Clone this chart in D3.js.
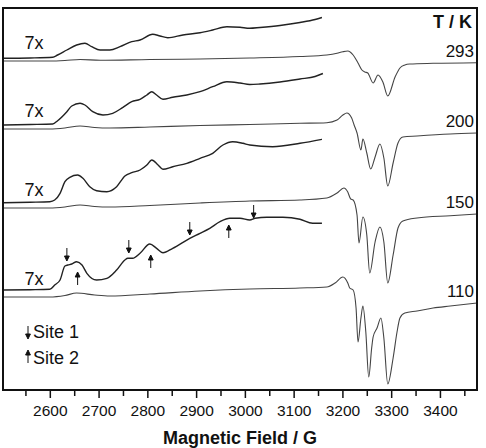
<!DOCTYPE html>
<html>
<head>
<meta charset="utf-8">
<script src="https://cdn.jsdelivr.net/npm/d3@7"></script>
<style>
  body { margin: 0; background: #fff; }
  svg { font-family: Arial, "Liberation Sans", sans-serif; }
  .axis .domain { display: none; }
</style>
</head>
<body>
<svg width="486" height="448"></svg>
<script>
// temperatures (top to bottom) and the stacking offset of each spectrum (a.u.)
var temps = ["293", "200", "150", "110"];
var offsets = [329, 261, 182, 93];
var xTicks = [2600, 2700, 2800, 2900, 3000, 3100, 3200, 3300, 3400];

// full spectra: [field / G, intensity a.u.]
var full293 = [[2504,0],[2600,0],[2631,0.5],[2662,1.5],[2703,0.7],[2805,1.5],[2908,2],[3010,3],[3113,4.5],[3168,6],[3189,7.7],[3201,9.3],[3211,10],[3222,6],[3232,-2],[3240,-9],[3246,-11],[3252,-12],[3263,-22],[3273,-14],[3283,-21],[3293,-35],[3308,-16],[3318,-7],[3328,-4],[3338,-3],[3386,-2.3],[3476,-1.7]];
var full200 = [[2504,0],[2600,0],[2631,1],[2662,3],[2692,1.5],[2723,1],[2805,2],[2908,3.5],[3010,4.5],[3113,5.7],[3168,6.3],[3189,9],[3201,14],[3209,16],[3219,11],[3224,4],[3230,-4],[3238,-21],[3242,-10],[3250,-24],[3258,-40],[3267,-28],[3277,-15],[3285,-29],[3293,-57],[3304,-34],[3314,-14],[3324,-8],[3353,-7],[3421,-5],[3476,-4]];
var full150 = [[2504,0],[2600,0],[2631,1],[2662,3],[2692,1.5],[2723,1],[2805,2.5],[2908,5],[3010,7],[3113,8],[3168,10],[3189,15],[3203,20],[3211,16],[3217,9],[3222,8],[3230,-7],[3234,-35],[3242,-9],[3250,-27],[3256,-65],[3267,-34],[3277,-19],[3285,-34],[3293,-75],[3304,-47],[3314,-20],[3324,-13],[3353,-10],[3421,-7.7],[3476,-6]];
var full110 = [[2504,0],[2600,0],[2631,1.5],[2655,4],[2692,2],[2723,1],[2805,3],[2908,6],[3010,8],[3113,9],[3168,10],[3185,14],[3201,20],[3211,14],[3215,9],[3222,7],[3228,-11],[3232,-45],[3238,-21],[3242,-9],[3248,-35],[3254,-80],[3260,-51],[3263,-40],[3271,-31],[3279,-21],[3285,-41],[3293,-87],[3304,-61],[3312,-35],[3318,-21],[3328,-16],[3353,-14],[3386,-11],[3421,-9],[3476,-6]];

// low field part magnified 7x
var mag293 = [[2504,2.7],[2560,3],[2606,3.7],[2616,6],[2635,11],[2655,16],[2672,17.7],[2686,14.3],[2703,11],[2723,11],[2744,14.3],[2768,19.3],[2785,21],[2811,26.7],[2826,25],[2842,23.3],[2873,26],[2908,28.3],[2934,31],[2963,34.3],[2990,33.7],[3010,32.7],[3031,33.5],[3072,35.5],[3113,38.5],[3144,41.5],[3158,43.5]];
var mag200 = [[2504,4],[2560,4.5],[2606,5],[2616,8.3],[2635,17.3],[2645,23],[2662,25.7],[2672,24],[2688,17.3],[2709,14],[2729,15.7],[2750,21.7],[2768,27.3],[2785,29.7],[2799,34],[2809,37.3],[2819,34],[2832,29.7],[2852,31.7],[2881,34],[2908,37.3],[2934,42.3],[2963,47.3],[2990,46],[3010,44.5],[3031,45],[3072,47],[3113,50],[3144,52.5],[3160,55.5]];
var mag150 = [[2504,5.3],[2560,5.8],[2600,6.3],[2610,8],[2621,14.7],[2631,26.3],[2641,30.7],[2657,33],[2668,29.7],[2682,21.3],[2696,17.3],[2717,16.3],[2737,21.3],[2754,32],[2768,35.3],[2785,38],[2799,43],[2809,48],[2822,43],[2832,38.7],[2852,41.3],[2881,44.7],[2908,49.7],[2934,54.7],[2955,63],[2975,66.3],[2996,64.7],[3010,63],[3057,61.3],[3113,64.7],[3158,68.7]];
var mag110 = [[2504,7],[2560,7.3],[2600,7.7],[2610,12],[2621,17],[2631,31],[2637,32],[2645,33],[2655,35.3],[2666,32],[2676,23.7],[2696,17],[2717,18.7],[2737,27],[2754,37],[2760,38.7],[2770,38.7],[2785,43.7],[2805,53],[2819,48.7],[2832,44.3],[2852,48.7],[2887,58.7],[2908,63.7],[2928,68.7],[2949,75.3],[2969,78.7],[2990,78.7],[3010,77],[3021,78.7],[3045,79.7],[3078,79.7],[3113,77.7],[3139,73.7],[3158,73.7]];

// site markers on the 110 K 7x trace: [field, arrow tip level]
var site1 = [[2635,36],[2762,44],[2887,62],[3018,79]];
var site2 = [[2657,25],[2807,42],[2967,72]];

var fullSpectra = [full293, full200, full150, full110];
var magSpectra = [mag293, mag200, mag150, mag110];

(function() {
var svg = d3.select("svg"),
    pl = 3, pr = 477, pt = 8, pb = 390;

var x = d3.scaleLinear().domain([2504, 3476]).range([pl, pr]);
var y = d3.scaleLinear().domain([0, 382]).range([pb, pt]);

function lineFor(off) {
  return d3.line()
    .x(function(d) { return x(d[0]); })
    .y(function(d) { return y(off + d[1]); })
    .curve(d3.curveMonotoneX);
}

var g = svg.append("g");

temps.forEach(function(t, i) {
  var off = offsets[i];
  g.append("path")
    .attr("d", lineFor(off)(fullSpectra[i]))
    .attr("fill", "none")
    .attr("stroke", "#444")
    .attr("stroke-width", 1.1);
  g.append("path")
    .attr("d", lineFor(off)(magSpectra[i]))
    .attr("fill", "none")
    .attr("stroke", "#222")
    .attr("stroke-width", 1.4);

  var last = fullSpectra[i][fullSpectra[i].length - 1];
  svg.append("text")
    .attr("x", 474)
    .attr("y", y(off + last[1]) - 6)
    .attr("text-anchor", "end")
    .attr("font-size", 17)
    .attr("fill", "#111")
    .text(t);

  svg.append("text")
    .attr("x", x(2548))
    .attr("y", y(off) - 12)
    .attr("font-size", 18)
    .attr("fill", "#111")
    .text("7x");
});

// arrows: dir 1 points down, -1 points up
function arrowPath(px, tip, dir) {
  var len = 13, head = 5, w = 2.4;
  return "M" + px + "," + (tip - dir * len) + "V" + (tip - dir * head) +
    "M" + (px - w) + "," + (tip - dir * head) + "L" + (px + w) + "," + (tip - dir * head) +
    "L" + px + "," + tip + "Z";
}

var off110 = offsets[3];
g.selectAll(".s1").data(site1).enter().append("path")
  .attr("class", "s1")
  .attr("d", function(d) { return arrowPath(x(d[0]), y(off110 + d[1]), 1); })
  .attr("fill", "#111").attr("stroke", "#111").attr("stroke-width", 1);
g.selectAll(".s2").data(site2).enter().append("path")
  .attr("class", "s2")
  .attr("d", function(d) { return arrowPath(x(d[0]), y(off110 + d[1]), -1); })
  .attr("fill", "#111").attr("stroke", "#111").attr("stroke-width", 1);

// legend
svg.append("path").attr("d", arrowPath(28, 339, 1))
  .attr("fill", "#111").attr("stroke", "#111").attr("stroke-width", 1);
svg.append("path").attr("d", arrowPath(28, 350, -1))
  .attr("fill", "#111").attr("stroke", "#111").attr("stroke-width", 1);
svg.append("text").attr("x", 33).attr("y", 338).attr("font-size", 18).attr("fill", "#111").text("Site 1");
svg.append("text").attr("x", 33).attr("y", 364).attr("font-size", 18).attr("fill", "#111").text("Site 2");

svg.append("text")
  .attr("x", 472).attr("y", 28)
  .attr("text-anchor", "end")
  .attr("font-size", 18).attr("font-weight", "bold")
  .attr("fill", "#111")
  .text("T / K");

// frame
svg.append("rect")
  .attr("x", pl).attr("y", pt)
  .attr("width", pr - pl).attr("height", pb - pt)
  .attr("fill", "none").attr("stroke", "#111").attr("stroke-width", 2);

// x axis, major + minor ticks
var minor = xTicks.map(function(v) { return v - 50; }).concat([3450]);
svg.append("g")
  .attr("class", "axis")
  .attr("transform", "translate(0," + (pb + 1) + ")")
  .call(d3.axisBottom(x).tickValues(minor).tickSize(5).tickFormat(""))
  .selectAll("line").attr("stroke", "#111").attr("stroke-width", 1.5);

var ax = svg.append("g")
  .attr("class", "axis")
  .attr("transform", "translate(0," + (pb + 1) + ")")
  .call(d3.axisBottom(x).tickValues(xTicks).tickSize(7).tickPadding(7).tickFormat(d3.format("d")));
ax.selectAll("line").attr("stroke", "#111").attr("stroke-width", 1.5);
ax.selectAll("text")
  .attr("font-size", 15.5)
  .attr("font-family", "Arial, 'Liberation Sans', sans-serif")
  .attr("fill", "#111");

svg.append("text")
  .attr("x", 240).attr("y", 444)
  .attr("text-anchor", "middle")
  .attr("font-size", 18).attr("font-weight", "bold")
  .attr("fill", "#111")
  .text("Magnetic Field / G");
})();
</script>
</body>
</html>
